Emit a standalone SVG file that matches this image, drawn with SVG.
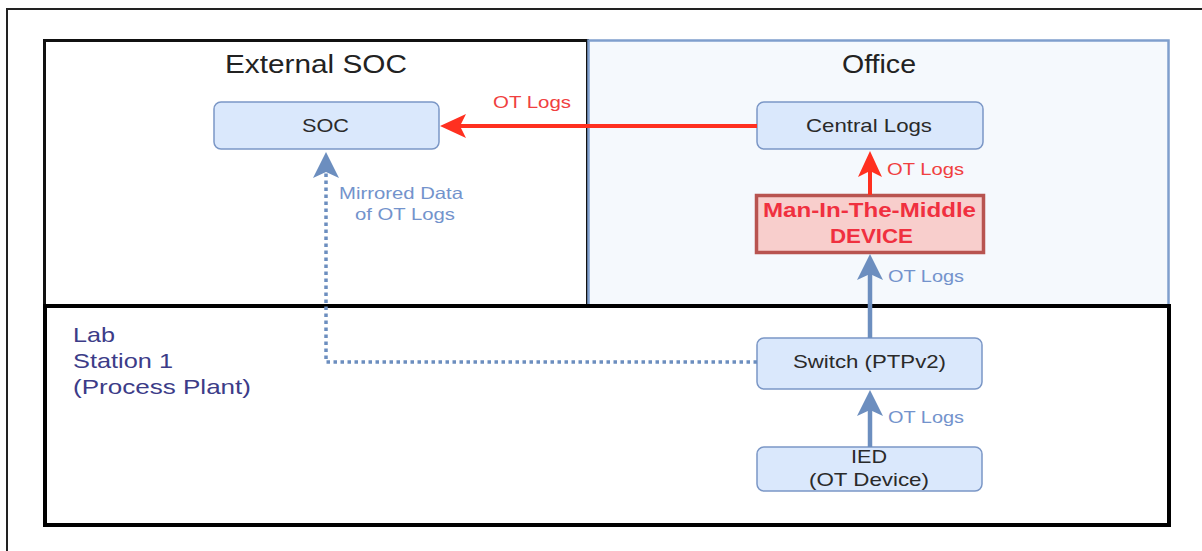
<svg xmlns="http://www.w3.org/2000/svg" width="1202" height="551" viewBox="0 0 1202 551">
<style>
text{font-family:"Liberation Sans",Arial,sans-serif}
.title{font-size:25px;fill:#222}
.node{fill:#dae8fc;stroke:#7b97c6;stroke-width:1.5}
.nt{font-size:18.5px;fill:#2a2a2a}
.lr{font-size:16.5px;fill:#f04040}
.lb{font-size:16.5px;fill:#7393cc}
.mitm{font-size:19.5px;font-weight:bold;fill:#f0303f}
.lab{font-size:21px;fill:#3c3c88}
.cr{fill:none;stroke:#ff3020;stroke-width:4}
.cb{fill:none;stroke:#6c8ebf;stroke-width:4.5}
.cd{fill:none;stroke:#6c8ebf;stroke-width:3.5;stroke-dasharray:3.5 3.5}
</style>
<defs>
<marker id="mr" markerUnits="userSpaceOnUse" viewBox="-7 -13 28 26" refX="0" refY="0" markerWidth="28" markerHeight="26" orient="auto" overflow="visible"><path d="M20,0 L-6,-12 L0,0 L-6,12 Z" fill="#ff3020"/></marker>
<marker id="mb" markerUnits="userSpaceOnUse" viewBox="-7 -13 28 26" refX="0" refY="0" markerWidth="28" markerHeight="26" orient="auto" overflow="visible"><path d="M20,0 L-6,-13 L0,0 L-6,13 Z" fill="#6c8ebf"/></marker>
</defs>
<rect width="1202" height="551" fill="#ffffff"/>
<path d="M7,551 V9 H1202" fill="none" stroke="#222" stroke-width="2"/>

<g id="external-soc">
<rect x="44.5" y="40.5" width="543" height="265" fill="#ffffff" stroke="#111" stroke-width="3"/>
<text class="title" x="225" y="73" textLength="182" lengthAdjust="spacingAndGlyphs">External SOC</text>
</g>
<g id="office">
<rect x="588.5" y="40.5" width="580" height="265" fill="#f5f9fd" stroke="#7f9fcd" stroke-width="2.5"/>
<text class="title" x="842" y="73" textLength="74" lengthAdjust="spacingAndGlyphs">Office</text>
</g>
<g id="lab">
<rect x="45" y="306" width="1124" height="219" fill="#ffffff" stroke="#000" stroke-width="4"/>
<text class="lab" x="73" y="342" textLength="42" lengthAdjust="spacingAndGlyphs">Lab</text>
<text class="lab" x="73" y="368" textLength="100" lengthAdjust="spacingAndGlyphs">Station 1</text>
<text class="lab" x="73" y="394" textLength="178" lengthAdjust="spacingAndGlyphs">(Process Plant)</text>
</g>

<g id="soc">
<rect class="node" x="214" y="102" width="225" height="47" rx="7"/>
<text class="nt" x="302" y="132" textLength="47" lengthAdjust="spacingAndGlyphs">SOC</text>
</g>
<g id="central-logs">
<rect class="node" x="757" y="102" width="226" height="47" rx="7"/>
<text class="nt" x="806" y="132" textLength="126" lengthAdjust="spacingAndGlyphs">Central Logs</text>
</g>
<g id="mitm">
<rect x="756.5" y="195.5" width="227" height="57" fill="#f8cecc" stroke="#b85450" stroke-width="3.5"/>
<text class="mitm" x="763" y="217" textLength="213" lengthAdjust="spacingAndGlyphs">Man-In-The-Middle</text>
<text class="mitm" x="830" y="243" textLength="83" lengthAdjust="spacingAndGlyphs">DEVICE</text>
</g>
<g id="switch">
<rect class="node" x="757" y="338" width="225" height="51" rx="7"/>
<text class="nt" x="793" y="368" textLength="153" lengthAdjust="spacingAndGlyphs">Switch (PTPv2)</text>
</g>
<g id="ied">
<rect class="node" x="757" y="447" width="225" height="44" rx="7"/>
<text class="nt" x="851" y="463" textLength="36" lengthAdjust="spacingAndGlyphs">IED</text>
<text class="nt" x="809" y="486" textLength="120" lengthAdjust="spacingAndGlyphs">(OT Device)</text>
</g>

<g id="connectors">
<path class="cr" d="M757,126 H460" marker-end="url(#mr)"/>
<text class="lr" x="493" y="108" textLength="78" lengthAdjust="spacingAndGlyphs">OT Logs</text>
<path class="cr" d="M870,195 V171" marker-end="url(#mr)"/>
<text class="lr" x="887" y="175" textLength="77" lengthAdjust="spacingAndGlyphs">OT Logs</text>
<path class="cb" d="M870,338 V274" marker-end="url(#mb)"/>
<text class="lb" x="888" y="282" textLength="76" lengthAdjust="spacingAndGlyphs">OT Logs</text>
<path class="cb" d="M870,447 V410" marker-end="url(#mb)"/>
<text class="lb" x="888" y="423" textLength="76" lengthAdjust="spacingAndGlyphs">OT Logs</text>
<path class="cd" d="M757,362 H326 V172" marker-end="url(#mb)"/>
<text class="lb" x="339" y="199" textLength="124" lengthAdjust="spacingAndGlyphs">Mirrored Data</text>
<text class="lb" x="355" y="220" textLength="100" lengthAdjust="spacingAndGlyphs">of OT Logs</text>
</g>
</svg>
